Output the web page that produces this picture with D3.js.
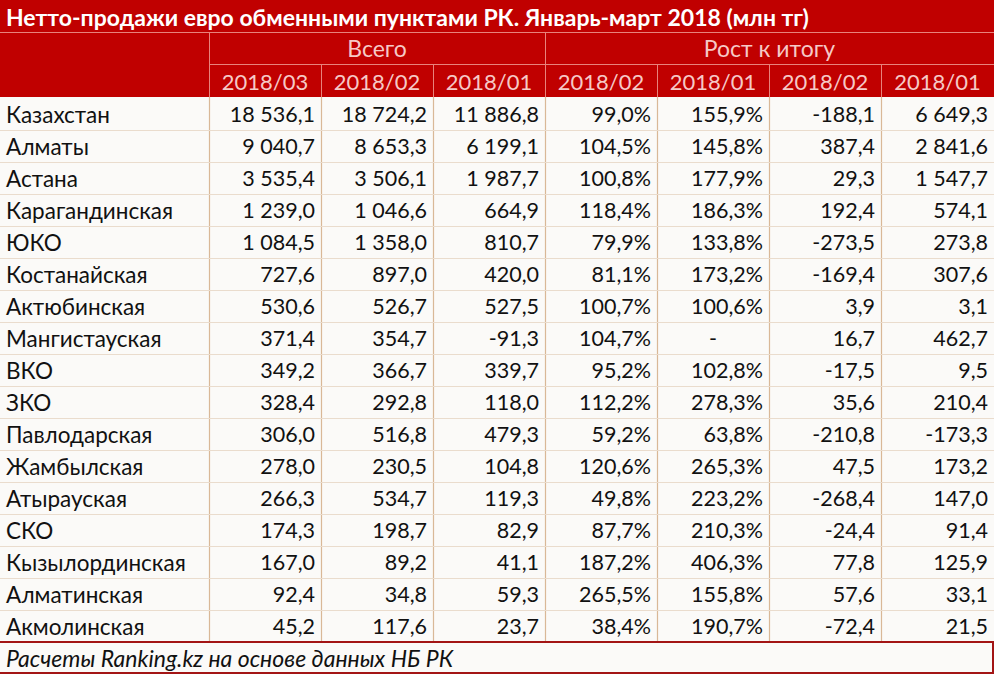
<!DOCTYPE html>
<html><head><meta charset="utf-8">
<script src="https://cdn.jsdelivr.net/npm/d3@7"></script>
<style>html,body{margin:0;padding:0;background:#fff;}svg{display:block;}</style>
</head><body>
<script>
const title = "Нетто-продажи евро обменными пунктами РК. Январь-март 2018 (млн тг)";
const groupHeaders = ["Всего", "Рост к итогу"];
const colHeaders = ["2018/03", "2018/02", "2018/01", "2018/02", "2018/01", "2018/02", "2018/01"];
const regions = ["Казахстан","Алматы","Астана","Карагандинская","ЮКО","Костанайская","Актюбинская","Мангистауская","ВКО","ЗКО","Павлодарская","Жамбылская","Атырауская","СКО","Кызылординская","Алматинская","Акмолинская"];
const total03 = [18536.1,9040.7,3535.4,1239.0,1084.5,727.6,530.6,371.4,349.2,328.4,306.0,278.0,266.3,174.3,167.0,92.4,45.2];
const total02 = [18724.2,8653.3,3506.1,1046.6,1358.0,897.0,526.7,354.7,366.7,292.8,516.8,230.5,534.7,198.7,89.2,34.8,117.6];
const total01 = [11886.8,6199.1,1987.7,664.9,810.7,420.0,527.5,-91.3,339.7,118.0,479.3,104.8,119.3,82.9,41.1,59.3,23.7];
const growthPct02 = [99.0,104.5,100.8,118.4,79.9,81.1,100.7,104.7,95.2,112.2,59.2,120.6,49.8,87.7,187.2,265.5,38.4];
const growthPct01 = [155.9,145.8,177.9,186.3,133.8,173.2,100.6,null,102.8,278.3,63.8,265.3,223.2,210.3,406.3,155.8,190.7];
const growthAbs02 = [-188.1,387.4,29.3,192.4,-273.5,-169.4,3.9,16.7,-17.5,35.6,-210.8,47.5,-268.4,-24.4,77.8,57.6,-72.4];
const growthAbs01 = [6649.3,2841.6,1547.7,574.1,273.8,307.6,3.1,462.7,9.5,210.4,-173.3,173.2,147.0,91.4,125.9,33.1,21.5];
const source = "Расчеты Ranking.kz на основе данных НБ РК";

const W = 994, H = 674;
const loc = d3.formatLocale({decimal: ",", thousands: "\u00a0", grouping: [3], currency: ["", ""], minus: "-"});
const fNum = loc.format(",.1f");
const fPct = v => v == null ? "-" : loc.format(".1f")(v) + "%";

const series = [
  {vals: total03, fmt: fNum}, {vals: total02, fmt: fNum}, {vals: total01, fmt: fNum},
  {vals: growthPct02, fmt: fPct}, {vals: growthPct01, fmt: fPct},
  {vals: growthAbs02, fmt: fNum}, {vals: growthAbs01, fmt: fNum}
];

const colEdges = [0, 209, 321, 433, 545, 657, 769, 881, 994];
const x = i => colEdges[i];
const cw = i => colEdges[i + 1] - colEdges[i];

const red = "#c00000";
const hdrText = "#f6c9c6";
const border = "#d9b897";
const font = "Lato, 'Open Sans', sans-serif";

const y = d3.scaleBand().domain(d3.range(regions.length)).range([98, 642]).paddingInner(0).paddingOuter(0);

const svg = d3.select("body").append("svg").attr("width", W).attr("height", H).style("font-family", font);

svg.append("rect").attr("x", 0).attr("y", 0).attr("width", W).attr("height", 97).attr("fill", red);
svg.append("text").attr("x", 6).attr("y", 17).attr("dominant-baseline", "central")
  .attr("fill", "#ffffff").attr("font-weight", "bold").attr("font-size", 23).text(title);

const hl = svg.append("g").attr("stroke", "#e8837c").attr("stroke-width", 1);
hl.append("line").attr("x1", 0).attr("x2", W).attr("y1", 32.5).attr("y2", 32.5);
hl.append("line").attr("x1", x(1)).attr("x2", W).attr("y1", 64.5).attr("y2", 64.5);
[1, 4].forEach(i => hl.append("line").attr("x1", x(i) + 0.5).attr("x2", x(i) + 0.5).attr("y1", 32).attr("y2", 97));
[2, 3, 5, 6, 7].forEach(i => hl.append("line").attr("x1", x(i) + 0.5).attr("x2", x(i) + 0.5).attr("y1", 64).attr("y2", 97));

svg.append("text").attr("x", (x(1) + x(4)) / 2).attr("y", 48).attr("text-anchor", "middle").attr("dominant-baseline", "central")
  .attr("fill", hdrText).attr("font-size", 23).text(groupHeaders[0]);
svg.append("text").attr("x", (x(4) + x(8)) / 2).attr("y", 48).attr("text-anchor", "middle").attr("dominant-baseline", "central")
  .attr("fill", hdrText).attr("font-size", 23).text(groupHeaders[1]);
svg.selectAll("text.ch").data(colHeaders).join("text").attr("class", "ch")
  .attr("x", (d, i) => x(i + 1) + cw(i + 1) / 2).attr("y", 81).attr("text-anchor", "middle").attr("dominant-baseline", "central")
  .attr("fill", hdrText).attr("font-size", 22).text(d => d);

svg.append("rect").attr("x", 0).attr("y", 97).attr("width", W).attr("height", 545).attr("fill", "#fbfaf8");

const gl = svg.append("g").attr("stroke", border).attr("stroke-width", 1.2);
d3.range(1, 8).forEach(i => gl.append("line").attr("x1", x(i) + 0.5).attr("x2", x(i) + 0.5).attr("y1", 97).attr("y2", 642));
d3.range(1, regions.length).forEach(r => gl.append("line").attr("x1", 0).attr("x2", W)
  .attr("y1", y(r) + 0.5).attr("y2", y(r) + 0.5).attr("stroke", "#eadccd"));

svg.selectAll("text.reg").data(regions).join("text").attr("class", "reg")
  .attr("x", 6).attr("y", (d, i) => y(i) + y.bandwidth() / 2).attr("dominant-baseline", "central")
  .attr("fill", "#111").attr("font-size", 22.5).text(d => d);

series.forEach((s, c) => {
  svg.append("g").selectAll("text").data(s.vals).join("text")
    .attr("x", v => v == null ? x(c + 1) + cw(c + 1) / 2 : x(c + 2) - 6)
    .attr("y", (v, i) => y(i) + y.bandwidth() / 2)
    .attr("text-anchor", v => v == null ? "middle" : "end")
    .attr("dominant-baseline", "central")
    .attr("fill", "#111").attr("font-size", 21.5).text(v => s.fmt(v));
});

svg.append("rect").attr("x", 0).attr("y", 642).attr("width", W).attr("height", 32).attr("fill", "#fbfaf8");
svg.append("line").attr("x1", 0).attr("x2", W).attr("y1", 642).attr("y2", 642).attr("stroke", "#a31515").attr("stroke-width", 2);
svg.append("line").attr("x1", 0).attr("x2", W).attr("y1", 673).attr("y2", 673).attr("stroke", "#a31515").attr("stroke-width", 2);
svg.append("line").attr("x1", W - 1).attr("x2", W - 1).attr("y1", 642).attr("y2", 674).attr("stroke", "#a31515").attr("stroke-width", 2);
svg.append("text").attr("x", 6).attr("y", 658).attr("dominant-baseline", "central")
  .attr("font-style", "italic").attr("fill", "#111").attr("font-size", 23).text(source);
</script>
</body></html>
